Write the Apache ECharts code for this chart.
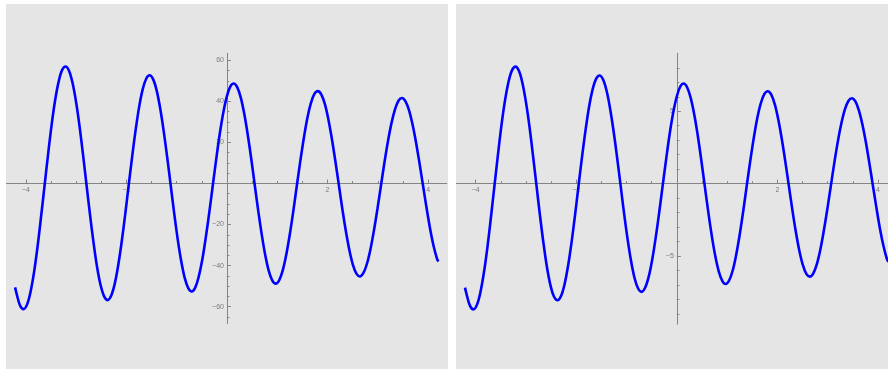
<!DOCTYPE html>
<html>
<head>
<meta charset="utf-8">
<style>
  html, body { margin: 0; padding: 0; background: #ffffff; }
  #chart { width: 888px; height: 369px; }
</style>
<script src="https://cdn.jsdelivr.net/npm/echarts@6.0.0/dist/echarts.min.js"></script>
</head>
<body>
<div id="chart"></div>
<script>
// Sample positions along x, shared by both panels
const xs = [
  -4.213,
  -4.185, -4.115, -4.045, -3.976, -3.906, -3.836, -3.766, -3.697, -3.627, -3.557, -3.488, -3.418,
  -3.348, -3.279, -3.209, -3.139, -3.070, -3.000, -2.930, -2.861, -2.791, -2.721, -2.651, -2.582,
  -2.512, -2.442, -2.373, -2.303, -2.233, -2.164, -2.094, -2.024, -1.955, -1.885, -1.815, -1.746,
  -1.676, -1.606, -1.537, -1.467, -1.397, -1.328, -1.258, -1.188, -1.118, -1.049, -0.979, -0.909,
  -0.840, -0.770, -0.700, -0.631, -0.561, -0.491, -0.422, -0.352, -0.282, -0.212, -0.143, -0.073,
  -0.003, 0.066, 0.136, 0.206, 0.275, 0.345, 0.415, 0.485, 0.554, 0.624, 0.694, 0.763,
  0.833, 0.903, 0.972, 1.042, 1.112, 1.181, 1.251, 1.321, 1.390, 1.460, 1.530, 1.599,
  1.669, 1.739, 1.808, 1.878, 1.948, 2.017, 2.087, 2.157, 2.227, 2.296, 2.366, 2.436,
  2.505, 2.575, 2.645, 2.714, 2.784, 2.854, 2.923, 2.993, 3.063, 3.132, 3.202, 3.272,
  3.342, 3.411, 3.481, 3.551, 3.620, 3.690, 3.760, 3.829, 3.899, 3.969, 4.038, 4.108,
  4.178,
  4.205
];

// Left panel: damped oscillation, large scale
const leftY = [
  -50.6,
  -53.5, -59.4, -61.2, -59.0, -52.8, -43.2, -30.7, -16.3, -1.0, 14.2, 28.3, 40.4,
  49.5, 55.2, 57.0, 54.8, 48.9, 39.6, 27.6, 13.8, -1.0, -15.7, -29.2, -40.8,
  -49.6, -55.0, -56.8, -54.7, -49.0, -40.1, -28.5, -15.2, -1.0, 13.1, 26.2, 37.3,
  45.8, 51.0, 52.7, 50.7, 45.2, 36.6, 25.5, 12.7, -1.0, -14.6, -27.2, -37.9,
  -46.0, -51.0, -52.6, -50.7, -45.4, -37.2, -26.5, -14.2, -1.0, 12.1, 24.2, 34.5,
  42.3, 47.2, 48.7, 46.8, 41.8, 33.8, 23.5, 11.7, -1.0, -13.6, -25.2, -35.1,
  -42.7, -47.3, -48.8, -47.0, -42.1, -34.5, -24.6, -13.2, -1.0, 11.1, 22.3, 31.9,
  39.1, 43.6, 45.0, 43.3, 38.6, 31.2, 21.7, 10.7, -1.0, -12.6, -23.4, -32.6,
  -39.6, -43.9, -45.3, -43.6, -39.1, -32.0, -22.9, -12.3, -1.0, 10.2, 20.6, 29.4,
  36.1, 40.3, 41.6, 40.0, 35.7, 28.8, 20.0, 9.9, -1.0, -11.8, -21.8, -30.3,
  -36.7,
  -38.0
];

// Right panel: same oscillation, small scale
const rightY = [
  -7.18,
  -7.59, -8.42, -8.68, -8.37, -7.49, -6.12, -4.36, -2.32, -0.14, 2.02, 4.02, 5.73,
  7.02, 7.82, 8.08, 7.77, 6.93, 5.61, 3.92, 1.95, -0.14, -2.22, -4.15, -5.79,
  -7.04, -7.81, -8.05, -7.76, -6.95, -5.68, -4.05, -2.16, -0.14, 1.86, 3.71, 5.29,
  6.49, 7.23, 7.47, 7.19, 6.41, 5.19, 3.62, 1.80, -0.14, -2.07, -3.85, -5.37,
  -6.53, -7.24, -7.47, -7.19, -6.44, -5.27, -3.76, -2.01, -0.14, 1.71, 3.43, 4.89,
  6.00, 6.69, 6.91, 6.64, 5.92, 4.79, 3.34, 1.65, -0.14, -1.93, -3.58, -4.98,
  -6.05, -6.71, -6.93, -6.67, -5.98, -4.89, -3.49, -1.87, -0.14, 1.57, 3.16, 4.52,
  5.55, 6.18, 6.38, 6.14, 5.47, 4.43, 3.08, 1.52, -0.14, -1.79, -3.32, -4.63,
  -5.61, -6.23, -6.42, -6.19, -5.55, -4.54, -3.24, -1.74, -0.14, 1.45, 2.92, 4.17,
  5.13, 5.71, 5.90, 5.68, 5.06, 4.09, 2.84, 1.40, -0.14, -1.67, -3.09, -4.29,
  -5.21,
  -5.39
];

// Tick marks
const xMajor = [-4, -2, 2, 4];
const xMinor = [-3.5, -3, -2.5, -1.5, -1, -0.5, 0.5, 1, 1.5, 2.5, 3, 3.5];
const leftYMajor = [-60, -40, -20, 20, 40, 60];
const leftYMinor = [-65, -55, -50, -45, -35, -30, -25, -15, -10, -5, 5, 10, 15, 25, 30, 35, 45, 50, 55];
const rightYMajor = [-5, 5];
const rightYMinor = [-9, -8, -7, -6, -4, -3, -2, -1, 1, 2, 3, 4, 6, 7, 8];

const AXIS_COLOR = '#858585';
const LABEL_COLOR = '#7a7a7a';
const fmt = v => (v < 0 ? '\u2212' : '') + Math.abs(v);

// Axes cross at the origin; each axis is shifted from its grid edge to the zero line.
function xAxisDef(gridIndex, offset, ticks, tickLen, labels) {
  return {
    type: 'value', gridIndex: gridIndex, min: -4.38, max: 4.37,
    position: 'bottom', offset: offset,
    axisLine: { show: true, onZero: false, lineStyle: { color: AXIS_COLOR, width: 1 } },
    axisTick: { show: true, inside: true, length: tickLen, customValues: ticks, lineStyle: { color: AXIS_COLOR, width: 1 } },
    axisLabel: labels ? {
      show: true, customValues: labels, margin: 3, fontSize: 7,
      fontFamily: 'Liberation Sans', color: LABEL_COLOR, formatter: fmt
    } : { show: false },
    splitLine: { show: false }
  };
}

function yAxisDef(gridIndex, offset, min, max, ticks, tickLen, labels) {
  return {
    type: 'value', gridIndex: gridIndex, min: min, max: max,
    position: 'left', offset: offset,
    axisLine: { show: true, onZero: false, lineStyle: { color: AXIS_COLOR, width: 1 } },
    axisTick: { show: true, inside: true, length: tickLen, customValues: ticks, lineStyle: { color: AXIS_COLOR, width: 1 } },
    axisLabel: labels ? {
      show: true, customValues: labels, margin: 3, fontSize: 7,
      fontFamily: 'Liberation Sans', color: LABEL_COLOR, formatter: fmt
    } : { show: false },
    splitLine: { show: false }
  };
}

const leftData = xs.map((x, i) => [x, leftY[i]]);
const rightData = xs.map((x, i) => [x, rightY[i]]);

const chart = echarts.init(document.getElementById('chart'), null, { renderer: 'canvas' });
chart.setOption({
  animation: false,
  backgroundColor: '#ffffff',
  graphic: [
    { type: 'rect', z: -10, silent: true, shape: { x: 6, y: 4, width: 442, height: 365 }, style: { fill: '#e5e5e5' } },
    { type: 'rect', z: -10, silent: true, shape: { x: 456, y: 4, width: 432, height: 365 }, style: { fill: '#e5e5e5' } }
  ],
  grid: [
    { left: 6.7, top: 53.3, width: 440, height: 270, containLabel: false, outerBoundsMode: 'none' },
    { left: 456.6, top: 53.3, width: 440, height: 270.7, containLabel: false, outerBoundsMode: 'none' }
  ],
  xAxis: [
    xAxisDef(0, -139.8, xMajor, 4, xMajor),
    xAxisDef(0, -139.8, xMinor, 2.5, null),
    xAxisDef(1, -140.35, xMajor, 4, xMajor),
    xAxisDef(1, -140.35, xMinor, 2.5, null)
  ],
  yAxis: [
    yAxisDef(0, -220.25, -68.1, 63.4, leftYMajor, 4, leftYMajor),
    yAxisDef(0, -220.25, -68.1, 63.4, leftYMinor, 2.5, null),
    yAxisDef(1, -220.25, -9.69, 9.0, rightYMajor, 4, rightYMajor),
    yAxisDef(1, -220.25, -9.69, 9.0, rightYMinor, 2.5, null)
  ],
  series: [
    {
      type: 'line', xAxisIndex: 0, yAxisIndex: 0, data: leftData,
      smooth: 0.35, showSymbol: false, symbol: 'none',
      lineStyle: { color: '#0000ff', width: 2.6 }
    },
    {
      type: 'line', xAxisIndex: 2, yAxisIndex: 2, data: rightData,
      smooth: 0.35, showSymbol: false, symbol: 'none',
      lineStyle: { color: '#0000ff', width: 2.6 }
    }
  ]
});
</script>
</body>
</html>
